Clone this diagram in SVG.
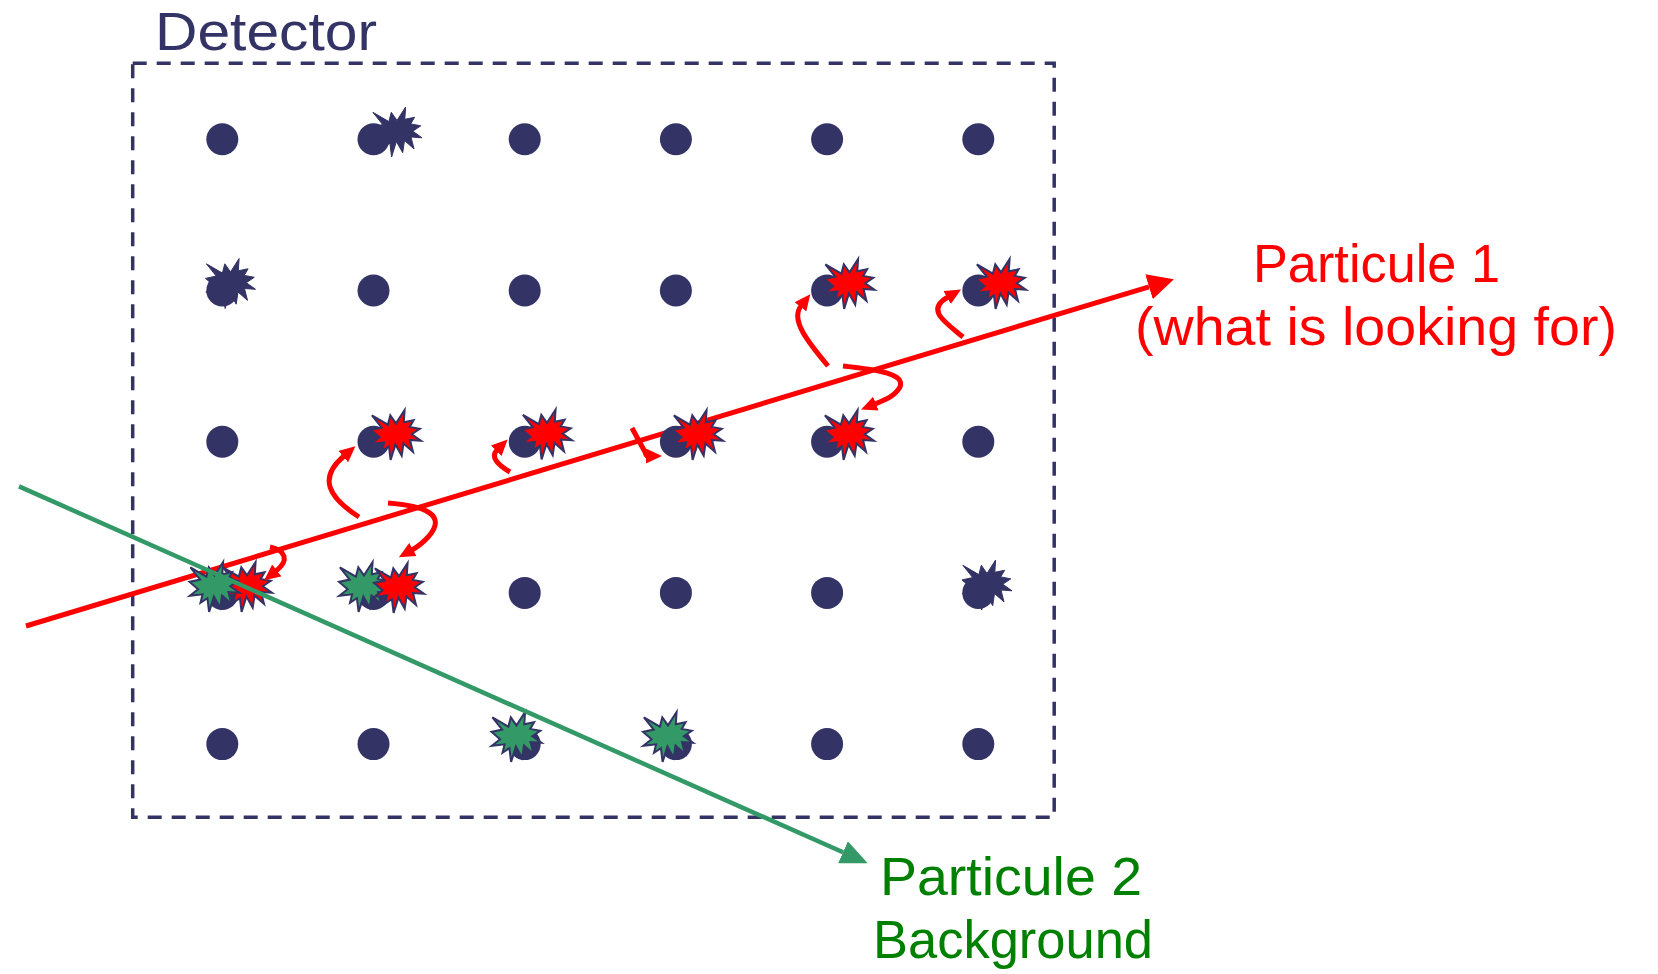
<svg xmlns="http://www.w3.org/2000/svg" xmlns:xlink="http://www.w3.org/1999/xlink" width="1658" height="974" viewBox="0 0 1658 974">
<style>
.dot{fill:#333366}
.bn{fill:#333366;stroke:#333366;stroke-width:1}
.br{fill:#ff0000;stroke:#333366;stroke-width:2}
.bg{fill:#339966;stroke:#333366;stroke-width:2}
.red{fill:none;stroke:#ff0000;stroke-width:5;stroke-linecap:butt}
.grn{fill:none;stroke:#339966;stroke-width:4.5}
.t{font-family:"Liberation Sans",Arial,sans-serif;font-size:54px}
</style>
<defs>
<path id="burst" d="M0,-11.6 L8.6,-25 L7.8,-12.7 L17.6,-14.7 L13.7,-8.1 L23.8,-6.2 L15.8,-0.8 L25,5.8 L14,5 L17,16.9 L7.5,8.5 L5.7,20.7 L-0.6,9.6 L-5.4,25 L-7.1,11.2 L-14,15.8 L-11.9,7.3 L-24.7,8.8 L-16.4,2.3 L-25,-5.1 L-14.3,-7.4 L-24.1,-19.7 L-8.1,-10.4 L-5.7,-19.7 Z"/>
<marker id="ahBig" markerUnits="userSpaceOnUse" viewBox="0 0 26 26" markerWidth="26" markerHeight="26" refX="0" refY="13" orient="auto"><path d="M0,0 L26,13 L0,26 Z" fill="#ff0000"/></marker>
<marker id="ahGreen" markerUnits="userSpaceOnUse" viewBox="0 0 27 24" markerWidth="27" markerHeight="24" refX="0" refY="12" orient="auto"><path d="M0,0 L27,12 L0,24 Z" fill="#339966"/></marker>
<marker id="ahSmall" markerUnits="userSpaceOnUse" viewBox="0 0 16 15" markerWidth="16" markerHeight="15" refX="1" refY="7.5" orient="auto"><path d="M0,0 L16,7.5 L0,15 Z" fill="#ff0000"/></marker>
</defs>
<rect width="1658" height="974" fill="#ffffff"/>

<g id="detector">
<rect x="132.7" y="63.3" width="921.5" height="754" fill="none" stroke="#333366" stroke-width="3.5" stroke-dasharray="14 10"/>
<text class="t" x="155" y="50" fill="#333366" textLength="222" lengthAdjust="spacingAndGlyphs">Detector</text>
</g>

<g id="tracks-under">
<line class="red" x1="26" y1="626" x2="1149" y2="286.8" marker-end="url(#ahBig)"/>
</g>

<g id="cell-r1c1"><circle class="dot" cx="222.3" cy="139.3" r="16"/></g>
<g id="cell-r1c2"><circle class="dot" cx="373.5" cy="139.3" r="16"/><use href="#burst" class="bn" x="397" y="132"/></g>
<g id="cell-r1c3"><circle class="dot" cx="524.7" cy="139.3" r="16"/></g>
<g id="cell-r1c4"><circle class="dot" cx="675.9" cy="139.3" r="16"/></g>
<g id="cell-r1c5"><circle class="dot" cx="827.1" cy="139.3" r="16"/></g>
<g id="cell-r1c6"><circle class="dot" cx="978.3" cy="139.3" r="16"/></g>

<g id="cell-r2c1"><circle class="dot" cx="222.3" cy="290.5" r="16"/><use href="#burst" class="bn" x="230.5" y="283.5"/></g>
<g id="cell-r2c2"><circle class="dot" cx="373.5" cy="290.5" r="16"/></g>
<g id="cell-r2c3"><circle class="dot" cx="524.7" cy="290.5" r="16"/></g>
<g id="cell-r2c4"><circle class="dot" cx="675.9" cy="290.5" r="16"/></g>
<g id="cell-r2c5"><circle class="dot" cx="827.1" cy="290.5" r="16"/><use href="#burst" class="br" x="849.5" y="284"/></g>
<g id="cell-r2c6"><circle class="dot" cx="978.3" cy="290.5" r="16"/><use href="#burst" class="br" x="1001" y="284"/></g>

<g id="cell-r3c1"><circle class="dot" cx="222.3" cy="441.7" r="16"/></g>
<g id="cell-r3c2"><circle class="dot" cx="373.5" cy="441.7" r="16"/><use href="#burst" class="br" x="396" y="435"/></g>
<g id="cell-r3c3"><circle class="dot" cx="524.7" cy="441.7" r="16"/><use href="#burst" class="br" x="547" y="434.5"/></g>
<g id="cell-r3c4"><circle class="dot" cx="675.9" cy="441.7" r="16"/><use href="#burst" class="br" x="698" y="435"/></g>
<g id="cell-r3c5"><circle class="dot" cx="827.1" cy="441.7" r="16"/><use href="#burst" class="br" x="849" y="435"/></g>
<g id="cell-r3c6"><circle class="dot" cx="978.3" cy="441.7" r="16"/></g>

<g id="cell-r4c1"><circle class="dot" cx="222.3" cy="594" r="16"/><use href="#burst" class="br" x="247" y="587"/><use href="#burst" class="bg" x="214.5" y="587"/></g>
<g id="cell-r4c2"><circle class="dot" cx="373.5" cy="594" r="16"/><use href="#burst" class="bg" x="364" y="587"/><use href="#burst" class="br" x="399" y="588"/></g>
<g id="cell-r4c3"><circle class="dot" cx="524.7" cy="592.9" r="16"/></g>
<g id="cell-r4c4"><circle class="dot" cx="675.9" cy="592.9" r="16"/></g>
<g id="cell-r4c5"><circle class="dot" cx="827.1" cy="592.9" r="16"/></g>
<g id="cell-r4c6"><circle class="dot" cx="978.3" cy="592.9" r="16"/><use href="#burst" class="bn" x="987" y="585"/></g>

<g id="cell-r5c1"><circle class="dot" cx="222.3" cy="744.1" r="16"/></g>
<g id="cell-r5c2"><circle class="dot" cx="373.5" cy="744.1" r="16"/></g>
<g id="cell-r5c3"><circle class="dot" cx="524.7" cy="744.1" r="16"/><use href="#burst" class="bg" x="516.5" y="737"/></g>
<g id="cell-r5c4"><circle class="dot" cx="675.9" cy="744.1" r="16"/><use href="#burst" class="bg" x="668" y="737"/></g>
<g id="cell-r5c5"><circle class="dot" cx="827.1" cy="744.1" r="16"/></g>
<g id="cell-r5c6"><circle class="dot" cx="978.3" cy="744.1" r="16"/></g>

<g id="connectors">
<line class="grn" x1="19" y1="486.4" x2="843" y2="852.3" marker-end="url(#ahGreen)"/>
<path class="red" d="M359,517 C328,497 318,478 344,456" marker-end="url(#ahSmall)"/>
<path class="red" d="M388,503 C428,506 446,516 429,536 Q421,545 412,550" marker-end="url(#ahSmall)"/>
<path class="red" d="M510,472 C498,465 490,457 497,450" marker-end="url(#ahSmall)"/>
<path class="red" d="M632,428 L645,452 Q646,456 647,456" marker-end="url(#ahSmall)"/>
<path class="red" d="M828,366 C808,342 790,320 801,306" marker-end="url(#ahSmall)"/>
<path class="red" d="M843,366 C880,370 905,374 900,387 C895,396 885,400 875,404" marker-end="url(#ahSmall)"/>
<path class="red" d="M963,337 C945,322 925,310 948,297" marker-end="url(#ahSmall)"/>
<path class="red" d="M270,547 C285,550 290,560 276,571" marker-end="url(#ahSmall)"/>
</g>

<g id="label-particule1">
<text class="t" x="1253" y="282" fill="#ff0000" textLength="247" lengthAdjust="spacingAndGlyphs">Particule 1</text>
<text class="t" x="1135" y="345" fill="#ff0000" textLength="482" lengthAdjust="spacingAndGlyphs">(what is looking for)</text>
</g>
<g id="label-particule2">
<text class="t" x="880" y="895" fill="#008000" textLength="262" lengthAdjust="spacingAndGlyphs">Particule 2</text>
<text class="t" x="873" y="958" fill="#008000" textLength="280" lengthAdjust="spacingAndGlyphs">Background</text>
</g>
</svg>
